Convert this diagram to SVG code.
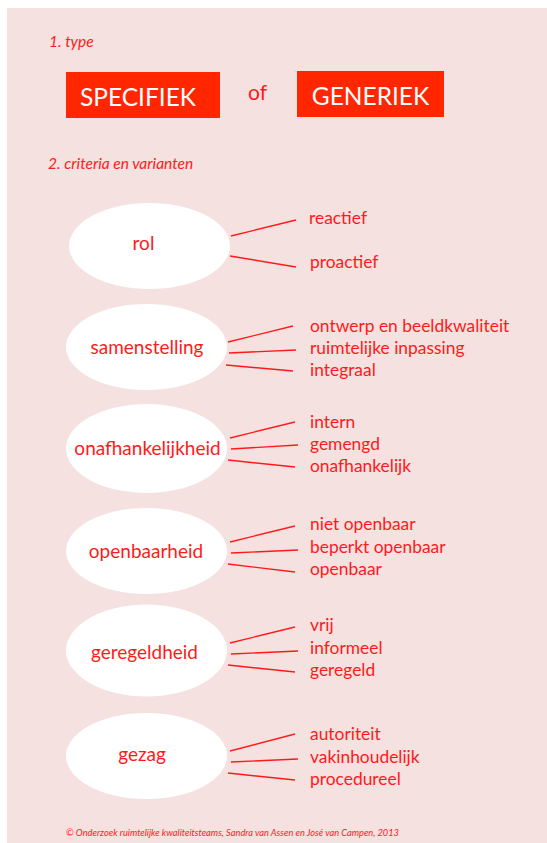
<svg xmlns="http://www.w3.org/2000/svg" width="547" height="843" viewBox="0 0 547 843">
<style>
.bg{fill:#F4E1E0}
.box{fill:#FF2600}
.ell{fill:#FFFFFF}
.t{font-family:Lato,"Open Sans",sans-serif;fill:#FF1A1A}
.it{font-style:italic;font-size:15.5px}
.lab{font-size:19px;text-anchor:middle}
.opt{font-size:17.4px}
.big{font-family:Lato,"Open Sans",sans-serif;fill:#FFFFFF;font-size:24.5px;text-anchor:middle}
.con line{stroke:#FF1A1A;stroke-width:1.4}
</style>
<rect class="bg" x="7" y="8" width="540" height="835"/>
<g id="header">
<text class="t it" x="49" y="47">1. type</text>
<g id="specifiek"><rect class="box" x="66" y="72" width="154" height="46"/><text class="big" x="138" y="106">SPECIFIEK</text></g>
<text class="t" x="248" y="100" font-size="21">of</text>
<g id="generiek"><rect class="box" x="297" y="71" width="147" height="46"/><text class="big" x="370.5" y="105">GENERIEK</text></g>
<text class="t it" x="48" y="169">2. criteria en varianten</text>
</g>
<g id="rol"><ellipse class="ell" cx="149.5" cy="246" rx="80.5" ry="43"/><text class="t lab" x="143.5" y="250">rol</text></g>
<g id="samenstelling"><ellipse class="ell" cx="146.5" cy="347" rx="80.5" ry="43"/><text class="t lab" x="147" y="354">samenstelling</text></g>
<g id="onafhankelijkheid"><ellipse class="ell" cx="146.5" cy="448.5" rx="80.5" ry="44.5"/><text class="t lab" x="147.5" y="455">onafhankelijkheid</text></g>
<g id="openbaarheid"><ellipse class="ell" cx="146.5" cy="551" rx="80.5" ry="43"/><text class="t lab" x="146" y="558">openbaarheid</text></g>
<g id="geregeldheid"><ellipse class="ell" cx="146.5" cy="650.5" rx="80.5" ry="46"/><text class="t lab" x="144.5" y="659">geregeldheid</text></g>
<g id="gezag"><ellipse class="ell" cx="146.5" cy="756" rx="80.5" ry="43"/><text class="t lab" x="142" y="761">gezag</text></g>
<g id="options">
<text class="t opt" x="309" y="224">reactief</text>
<text class="t opt" x="310" y="268">proactief</text>
<text class="t opt" x="310" y="332">ontwerp en beeldkwaliteit</text>
<text class="t opt" x="310" y="354">ruimtelijke inpassing</text>
<text class="t opt" x="310" y="376">integraal</text>
<text class="t opt" x="310" y="428">intern</text>
<text class="t opt" x="310" y="450">gemengd</text>
<text class="t opt" x="310" y="472">onafhankelijk</text>
<text class="t opt" x="310" y="530">niet openbaar</text>
<text class="t opt" x="310" y="553">beperkt openbaar</text>
<text class="t opt" x="310" y="575">openbaar</text>
<text class="t opt" x="310" y="631">vrij</text>
<text class="t opt" x="310" y="654">informeel</text>
<text class="t opt" x="310" y="676">geregeld</text>
<text class="t opt" x="310" y="740">autoriteit</text>
<text class="t opt" x="310" y="763">vakinhoudelijk</text>
<text class="t opt" x="310" y="785">procedureel</text>
</g>
<g id="connectors" class="con">
<line x1="231" y1="236" x2="296" y2="220"/>
<line x1="230" y1="256" x2="296" y2="267"/>
<line x1="228" y1="342" x2="293" y2="326"/>
<line x1="229" y1="353" x2="296" y2="350"/>
<line x1="226" y1="365" x2="293" y2="371"/>
<line x1="230" y1="438" x2="295" y2="422"/>
<line x1="231" y1="449" x2="298" y2="445"/>
<line x1="228" y1="460" x2="295" y2="467"/>
<line x1="230" y1="542" x2="295" y2="526"/>
<line x1="231" y1="553" x2="298" y2="550"/>
<line x1="228" y1="564" x2="295" y2="572"/>
<line x1="230" y1="643" x2="295" y2="627"/>
<line x1="231" y1="654" x2="298" y2="651"/>
<line x1="228" y1="665" x2="295" y2="672"/>
<line x1="230" y1="751" x2="295" y2="734"/>
<line x1="231" y1="762" x2="298" y2="759"/>
<line x1="228" y1="773" x2="295" y2="780"/>
</g>
<text class="t" x="66" y="836" font-size="9.5" font-style="italic" textLength="333" lengthAdjust="spacingAndGlyphs">© Onderzoek ruimtelijke kwaliteitsteams, Sandra van Assen en José van Campen, 2013</text>
</svg>
